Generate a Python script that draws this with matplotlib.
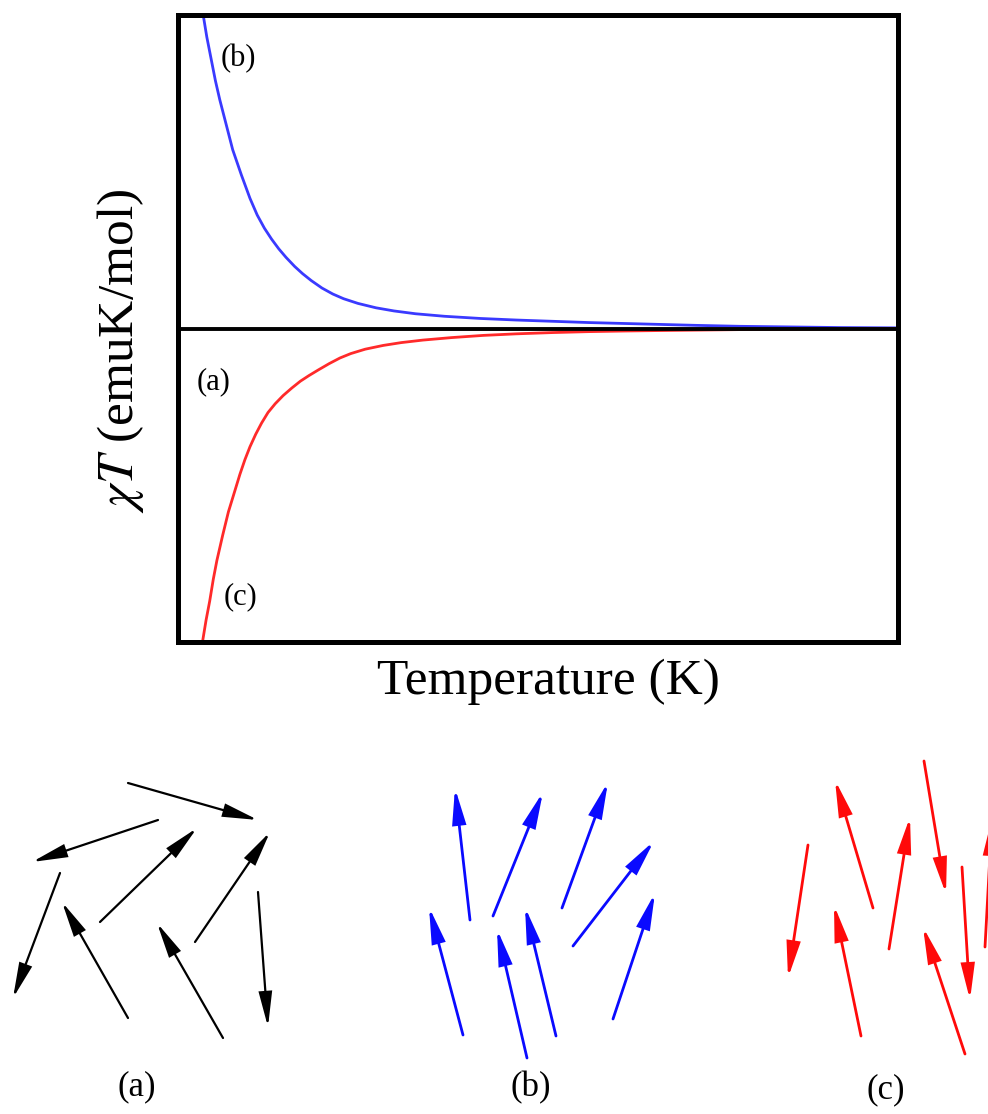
import matplotlib
matplotlib.use("Agg")
import matplotlib.pyplot as plt
from matplotlib.patches import FancyArrowPatch

plt.rcParams['font.family'] = ['Liberation Serif', 'DejaVu Serif']
plt.rcParams['mathtext.fontset'] = 'stix'

# ---- data: chi*T curves (temperature in arbitrary units 0..100, chiT relative) ----
temp_b = [3.0, 3.5, 4.0, 4.6, 5.2, 5.8, 6.7, 7.6, 8.8, 10.0, 11.0, 12.0, 13.0, 14.0,
          15.0, 16.2, 17.3, 18.5, 20.0, 21.5, 23.0, 25.0, 27.5, 30.0, 33.0, 37.0,
          42.0, 47.0, 52.0, 57.0, 62.0, 67.0, 72.0, 78.0, 85.0, 92.0, 100.0]
chiT_b = [1.10, 1.00, 0.93, 0.86, 0.79, 0.73, 0.65, 0.57, 0.49, 0.415, 0.362, 0.32,
          0.285, 0.254, 0.227, 0.198, 0.175, 0.153, 0.129, 0.11, 0.095, 0.08, 0.066,
          0.056, 0.047, 0.039, 0.032, 0.027, 0.023, 0.019, 0.016, 0.013, 0.010, 0.007,
          0.005, 0.003, 0.002]

temp_c = [2.9, 3.4, 3.9, 4.4, 4.9, 5.4, 6.2, 7.0, 7.8, 8.6, 9.3, 10.0, 10.8, 11.6,
          12.5, 13.5, 14.6, 15.8, 17.0, 18.2, 19.5, 21.0, 22.5, 24.0, 26.0, 28.5, 31.0,
          34.0, 38.0, 42.4, 47.0, 52.0, 57.0, 62.0, 67.0, 72.5, 80.0, 88.0, 100.0]
chiT_c = [-1.10, -1.00, -0.93, -0.87, -0.80, -0.74, -0.66, -0.585, -0.525, -0.465,
          -0.418, -0.377, -0.337, -0.302, -0.268, -0.240, -0.214, -0.19, -0.168, -0.15,
          -0.132, -0.112, -0.094, -0.080, -0.066, -0.054, -0.045, -0.037, -0.029,
          -0.022, -0.017, -0.013, -0.010, -0.008, -0.0065, -0.005, -0.003, -0.002,
          -0.001]

curve_labels = ['(b)', '(a)', '(c)']
curve_label_T = [8.4, 5.0, 8.7]
curve_label_y = [0.86, -0.17, -0.855]

# ---- data: spin arrows in the lower panels (tail x, tail y, head x, head y; image-like units) ----
spins_a_tail_x = [128, 158, 60, 100, 128, 195, 223, 258]
spins_a_tail_y = [783, 820, 873, 922, 1018, 942, 1038, 892]
spins_a_head_x = [258, 32, 13, 197, 62, 270, 157, 268]
spins_a_head_y = [820, 862, 998, 828, 902, 832, 923, 1027]

spins_b_tail_x = [470, 493, 562, 573, 463, 527, 556, 613]
spins_b_tail_y = [920, 916, 908, 946, 1035, 1058, 1036, 1019]
spins_b_head_x = [455, 543, 608, 654, 429, 497, 525, 655]
spins_b_head_y = [788, 792, 782, 841, 907, 929, 907, 893]

spins_c_tail_x = [808, 873, 861, 889, 924, 965, 962, 985]
spins_c_tail_y = [845, 908, 1036, 949, 761, 1054, 867, 947]
spins_c_head_x = [788, 835, 834, 910, 946, 923, 970, 992]
spins_c_head_y = [978, 780, 905, 817, 894, 927, 1000, 818]

panel_labels = ['(a)', '(b)', '(c)']
panel_label_x = [137, 531, 886]
panel_label_y = [1087, 1088, 1090]

W, H = 988, 1114
fig = plt.figure(figsize=(W / 100, H / 100), dpi=100)

# ---- main chi T plot ----
ax = fig.add_axes([178 / W, 1 - 642 / H, 720 / W, 627 / H])
ax.plot(temp_b, chiT_b, color='#3a3aff', lw=2.0, solid_capstyle='round',
        solid_joinstyle='round')
ax.plot(temp_c, chiT_c, color='#ff2a2a', lw=2.0, solid_capstyle='round',
        solid_joinstyle='round')
ax.axhline(0, color='black', lw=2.8, zorder=3)
ax.set_xlim(0, 100)
ax.set_ylim(-1, 1)
ax.set_xticks([])
ax.set_yticks([])
for s in ax.spines.values():
    s.set_linewidth(3.6)
    s.set_color('black')
for lab, tx, ty in zip(curve_labels, curve_label_T, curve_label_y):
    ax.text(tx, ty, lab, fontsize=22, ha='center', va='center')

ax.set_xlabel('Temperature (K)', fontsize=37)
ax.xaxis.set_label_coords(0.514, -0.026)
ax.xaxis.label.set_va('top')
ax.set_ylabel(r'$\chi T$ (emuK/mol)', fontsize=37)
ax.yaxis.set_label_coords(-0.045, 0.464)

# ---- lower panels with spin arrows ----
ax2 = fig.add_axes([0, 0, 1, 1], facecolor='none')
ax2.set_xlim(0, W)
ax2.set_ylim(H, 0)
ax2.axis('off')


def draw_spins(tx, ty, hx, hy, color, lw):
    for x0, y0, x1, y1 in zip(tx, ty, hx, hy):
        arr = FancyArrowPatch((x0, y0), (x1, y1),
                              arrowstyle='-|>,head_length=1.05,head_width=0.2',
                              mutation_scale=20, lw=lw, color=color,
                              shrinkA=0, shrinkB=0, joinstyle='miter')
        ax2.add_patch(arr)


draw_spins(spins_a_tail_x, spins_a_tail_y, spins_a_head_x, spins_a_head_y, 'black', 1.6)
draw_spins(spins_b_tail_x, spins_b_tail_y, spins_b_head_x, spins_b_head_y, '#0a0aff', 2.0)
draw_spins(spins_c_tail_x, spins_c_tail_y, spins_c_head_x, spins_c_head_y, '#ff0a0a', 2.0)

for lab, px, py in zip(panel_labels, panel_label_x, panel_label_y):
    ax2.text(px, py, lab, fontsize=25, ha='center', va='center')

fig.savefig('out.png', dpi=100)
